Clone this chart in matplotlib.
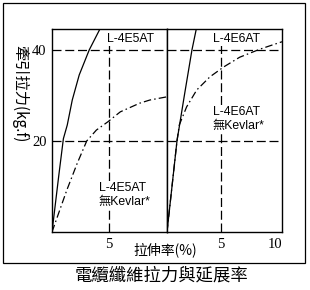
import matplotlib
matplotlib.use("Agg")
import matplotlib.pyplot as plt
from matplotlib.patches import Rectangle

# Data
left_solid_x = [0, 0.6, 1.0, 1.34, 1.78, 2.39, 3.27, 4.21, 4.5]
left_solid_y = [0, 12.5, 20.5, 23.5, 29, 34.5, 40, 44.6, 46]
left_dd_x = [0, 1.3, 2.2, 3.05, 3.9, 4.9, 6.0, 7.7, 8.6, 10.1]
left_dd_y = [0, 9.2, 15, 20, 22.4, 24.2, 26.4, 28.3, 29, 29.7]
right_solid_x = [0, 0.92, 1.6, 2.3, 2.7, 2.9]
right_solid_y = [0, 20, 30, 40, 44.6, 47]
right_dd_x = [0, 0.92, 1.13, 1.81, 2.74, 3.96, 5.25, 6.7, 8.6, 10.6]
right_dd_y = [0, 20, 23.5, 27.5, 31.2, 34.1, 36.3, 38.4, 40.2, 41.8]
y_ticks = [20, 40]
left_x_ticks = [5]
right_x_ticks = [5, 10]

cjk = ['Noto Sans CJK TC', 'DejaVu Sans']
lab = ['Liberation Sans', 'Noto Sans CJK TC']
serif = ['Liberation Serif']

fig = plt.figure(figsize=(3.1, 2.9), dpi=100)
W, H = 310, 290

def ax_rect(x0, y0, x1, y1):
    return [x0 / W, 1 - y1 / H, (x1 - x0) / W, (y1 - y0) / H]

axL = fig.add_axes(ax_rect(52, 29, 167, 232))
axR = fig.add_axes(ax_rect(167, 29, 282, 232))

dash = (0, (7.2, 3.0))
ddash = (0, (6, 2.5, 1.2, 2.5))
ylim = (0, 44.6)

for ax, xl in ((axL, (0, 10.1)), (axR, (0, 10.6))):
    ax.set_xlim(*xl)
    ax.set_ylim(*ylim)
    for sp in ax.spines.values():
        sp.set_linewidth(1.0)
        sp.set_color('black')
    for yv in y_ticks:
        ax.axhline(yv, color='black', lw=0.9, linestyle=dash)
    ax.axvline(5, color='black', lw=0.9, linestyle=dash)
    ax.tick_params(length=0, pad=4)

axL.plot(left_solid_x, left_solid_y, color='black', lw=0.9)
axL.plot(left_dd_x, left_dd_y, color='black', lw=0.9, linestyle=ddash)
axR.plot(right_solid_x, right_solid_y, color='black', lw=0.9)
axR.plot(right_dd_x, right_dd_y, color='black', lw=0.9, linestyle=ddash)

axL.set_yticks(y_ticks)
axL.set_yticklabels([str(v) for v in y_ticks], family=serif, fontsize=10.5)
axL.set_xticks(left_x_ticks)
axL.set_xticklabels([str(v) for v in left_x_ticks], family=serif, fontsize=10.5)
axR.set_yticks([])
axR.set_xticks(right_x_ticks)
axR.set_xticklabels([str(v) for v in right_x_ticks], family=serif, fontsize=10.5)

box = dict(facecolor='white', edgecolor='none', pad=0.5)

def ftext(x, y, s, **kw):
    fig.text(x / W, 1 - y / H, s, **kw)

ftext(107, 39, 'L-4E5AT', family=lab, fontsize=8.8, va='center', ha='left', bbox=box)
ftext(213, 39, 'L-4E6AT', family=lab, fontsize=8.8, va='center', ha='left', bbox=box)
ftext(213, 119, 'L-4E6AT\n無Kevlar*', family=lab, fontsize=8.8, va='center', ha='left',
      linespacing=1.25, bbox=box)
ftext(99, 195, 'L-4E5AT\n無Kevlar*', family=lab, fontsize=8.8, va='center', ha='left',
      linespacing=1.25, bbox=box)

ftext(20, 94, '牽引拉力(kg.f)', family=cjk, fontsize=11, rotation=-90, va='center', ha='center')
ftext(165, 250, '拉伸率(%)', family=cjk, fontsize=10, va='center', ha='center')
ftext(162, 276, '電纜纖維拉力與延展率', family=cjk, fontsize=12.5, va='center', ha='center')

fig.patches.append(Rectangle((3 / W, 1 - 263 / H), 302 / W, 260 / H,
                             transform=fig.transFigure, fill=False,
                             edgecolor='black', lw=0.9))

fig.savefig('out.png', dpi=100)
